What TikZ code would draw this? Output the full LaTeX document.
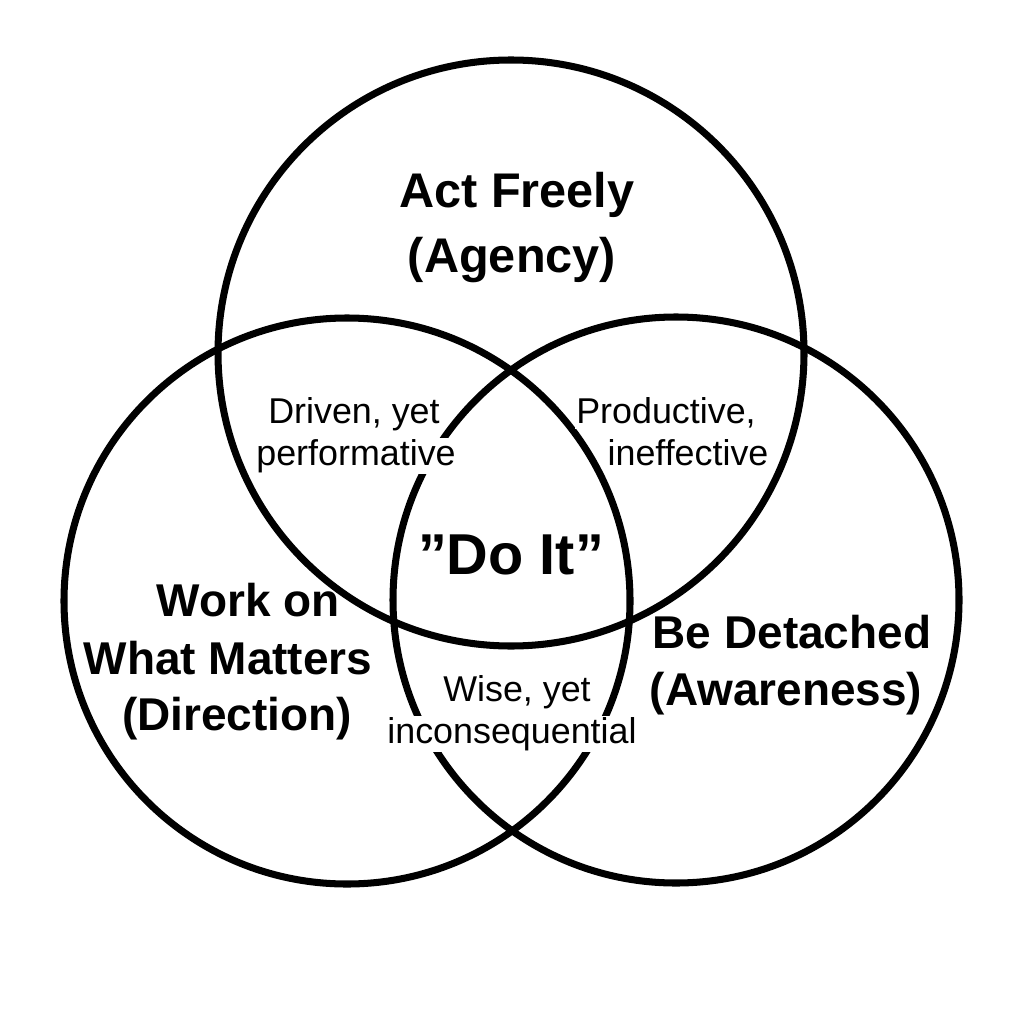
\documentclass[tikz,border=0pt]{standalone}
\usepackage{fontspec}
\setmainfont{Liberation Sans}
\begin{document}
\begin{tikzpicture}[x=0.025cm, y=-0.025cm,
  ring/.style={draw=black, line width=5pt},
  bigtop/.style={font=\fontsize{34.6}{40}\selectfont\bfseries, anchor=base, inner sep=0pt},
  bigside/.style={font=\fontsize{32.7}{38}\selectfont\bfseries, anchor=base, inner sep=0pt},
  center/.style={font=\fontsize{41}{46}\selectfont\bfseries, anchor=base, inner sep=0pt},
  small/.style={font=\fontsize{25.5}{30}\selectfont, anchor=base, fill=white, inner xsep=1pt, inner ysep=1pt}]
\useasboundingbox[fill=white] (0,0) rectangle (1024,1024);
% circles
\draw[ring] (511,353) circle[radius=293];
\draw[ring] (347,601) circle[radius=283];
\draw[ring] (676,600) circle[radius=283];
% main labels
\node[bigtop] (act1) at (517,208) {Act Freely};
\node[bigtop] (act2) at (512,272) {(Agency)};
\node[bigside] (work1) at (248,616) {Work on};
\node[bigside] (work2) at (228,674) {What Matters};
\node[bigside] (work3) at (237,730) {(Direction)};
\node[bigside] (det1) at (792,648) {Be Detached};
\node[bigside] (det2) at (786,705) {(Awareness)};
% centre
\node[center] (doit) at (511,574) {”Do It”};
% intersections
\node[small] (drv1) at (354,423) {Driven, yet};
\node[small] (drv2) at (356,465) {performative};
\node[small] (prd1) at (666,423) {Productive,};
\node[small] (prd2) at (688,465) {ineffective};
\node[small] (wis1) at (517,701) {Wise, yet};
\node[small] (wis2) at (512,743) {inconsequential};
\end{tikzpicture}
\end{document}
